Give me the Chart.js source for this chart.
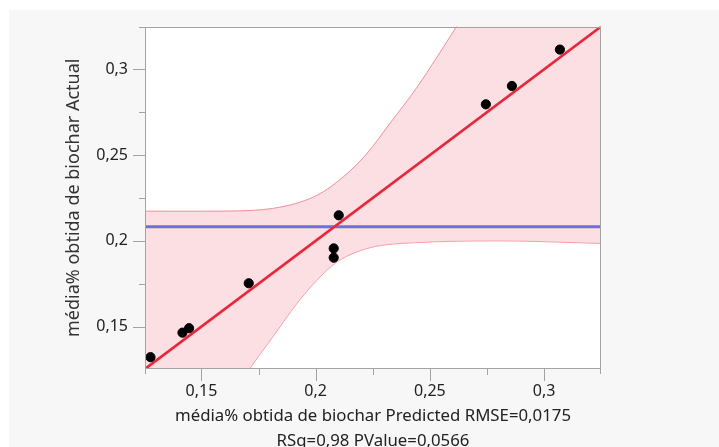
<!DOCTYPE html>
<html>
<head>
<meta charset="utf-8">
<script src="https://cdn.jsdelivr.net/npm/chart.js@4.4.9/dist/chart.umd.min.js"></script>
<style>
  html, body { margin: 0; padding: 0; background: #fff; overflow: hidden; }
  .panel { position: absolute; left: 9px; top: 10px; right: 0; bottom: 0; background: #f7f7f7; }
  .wrap { position: absolute; left: 0; top: 0; width: 719px; height: 460px; }
</style>
</head>
<body>
<div class="panel"></div>
<div class="wrap"><canvas id="chart"></canvas></div>
<script>
// observed points
const predicted = [0.1277, 0.1417, 0.1446, 0.1707, 0.2079, 0.2079, 0.2101, 0.2745, 0.2859, 0.3069];
const actual = [0.1322, 0.1465, 0.1491, 0.1753, 0.1956, 0.1902, 0.2149, 0.2796, 0.2903, 0.3115];

// axis range (same on both axes)
const axisMin = 0.1253;
const axisMax = 0.3249;

// fit line (actual = predicted) and mean of actual
const fitX = [0.1253, 0.3249];
const fitY = [0.1253, 0.3249];
const meanX = [0.1253, 0.3249];
const meanY = [0.2082, 0.2082];

// confidence curves
const upperX = [0.1253, 0.1494, 0.1669, 0.1857, 0.2006, 0.2120, 0.2225, 0.2325, 0.2444, 0.2531, 0.2619, 0.2750, 0.3249];
const upperY = [0.2173, 0.2173, 0.2175, 0.2200, 0.2266, 0.2372, 0.2510, 0.2685, 0.2896, 0.3071, 0.3255, 0.3530, 0.4500];
const lowerX = [0.1253, 0.1638, 0.1713, 0.1813, 0.1918, 0.2006, 0.2093, 0.2181, 0.2268, 0.2413, 0.2807, 0.3249];
const lowerY = [0.0000, 0.1100, 0.1257, 0.1441, 0.1635, 0.1771, 0.1877, 0.1936, 0.1969, 0.1988, 0.2000, 0.1985];

const xTitle = ["média% obtida de biochar Predicted RMSE=0,0175", "RSq=0,98 PValue=0,0566"];
const yTitle = "média% obtida de biochar Actual";

const zip = (xs, ys) => xs.map((x, i) => ({ x, y: ys[i] }));

const fmt = (v) => {
  const k = v / 0.05;
  if (Math.abs(k - Math.round(k)) > 1e-6) return "";
  return String(+v.toFixed(3)).replace(".", ",");
};

const axisGray = "#a3a3a3";
const textColor = "#222";
const fontFamily = "'Noto Sans', 'Open Sans', sans-serif";

// white plot area, frame and tick marks
const framePlugin = {
  id: "frame",
  beforeDraw(chart) {
    const { ctx, chartArea: a } = chart;
    ctx.save();
    ctx.fillStyle = "#fff";
    ctx.fillRect(a.left, a.top, a.right - a.left, a.bottom - a.top);
    ctx.restore();
  },
  afterDatasetsDraw(chart) {
    const { ctx, chartArea: a, scales } = chart;
    ctx.save();
    ctx.strokeStyle = axisGray;
    ctx.lineWidth = 1;
    ctx.strokeRect(Math.round(a.left) + 0.5, Math.round(a.top) + 0.5,
      Math.round(a.right - a.left) - 1, Math.round(a.bottom - a.top) - 1);
    ctx.beginPath();
    scales.y.ticks.forEach((t) => {
      const y = Math.round(scales.y.getPixelForValue(t.value)) + 0.5;
      const len = t.label ? 12 : 6;
      ctx.moveTo(a.left - len, y);
      ctx.lineTo(a.left, y);
    });
    scales.x.ticks.forEach((t) => {
      const x = Math.round(scales.x.getPixelForValue(t.value)) + 0.5;
      const len = t.label ? 12 : 6;
      ctx.moveTo(x, a.bottom);
      ctx.lineTo(x, a.bottom + len);
    });
    // end ticks
    ctx.moveTo(a.left - 6, Math.round(a.top) + 0.5);
    ctx.lineTo(a.left, Math.round(a.top) + 0.5);
    ctx.moveTo(Math.round(a.left) + 0.5, a.bottom);
    ctx.lineTo(Math.round(a.left) + 0.5, a.bottom + 5);
    ctx.moveTo(Math.round(a.right) - 0.5, a.bottom);
    ctx.lineTo(Math.round(a.right) - 0.5, a.bottom + 5);
    ctx.stroke();
    ctx.restore();
  },
};

new Chart(document.getElementById("chart").getContext("2d"), {
  type: "scatter",
  data: {
    datasets: [
      {
        data: zip(predicted, actual),
        backgroundColor: "#000",
        borderColor: "#000",
        pointRadius: 4.6,
        pointHoverRadius: 4.6,
      },
      {
        type: "line",
        data: zip(fitX, fitY),
        borderColor: "#e8273b",
        borderWidth: 2.6,
        pointRadius: 0,
        fill: false,
        clip: 0,
      },
      {
        type: "line",
        data: zip(meanX, meanY),
        borderColor: "#6f6fdc",
        borderWidth: 3,
        pointRadius: 0,
        fill: false,
        clip: 0,
      },
      {
        type: "line",
        data: zip(upperX, upperY),
        borderColor: "rgba(240, 110, 125, 0.75)",
        borderWidth: 1,
        backgroundColor: "rgba(250, 196, 204, 0.55)",
        pointRadius: 0,
        cubicInterpolationMode: "monotone",
        fill: "+1",
        clip: 0,
      },
      {
        type: "line",
        data: zip(lowerX, lowerY),
        borderColor: "rgba(240, 110, 125, 0.75)",
        borderWidth: 1,
        pointRadius: 0,
        cubicInterpolationMode: "monotone",
        fill: false,
        clip: 0,
      },
    ],
  },
  options: {
    responsive: true,
    maintainAspectRatio: false,
    animation: false,
    events: [],
    layout: { padding: { left: 0, top: 26, right: 118, bottom: 0 } },
    plugins: {
      legend: { display: false },
      tooltip: { enabled: false },
    },
    scales: {
      x: {
        type: "linear",
        min: axisMin,
        max: axisMax,
        grid: { display: false, drawTicks: false },
        border: { display: false },
        ticks: {
          stepSize: 0.025,
          includeBounds: false,
          autoSkip: false,
          maxRotation: 0,
          padding: 13,
          color: textColor,
          font: { family: fontFamily, size: 16 },
          callback: (v) => fmt(v),
        },
        title: {
          display: true,
          text: xTitle,
          color: textColor,
          font: { family: fontFamily, size: 16.8, lineHeight: "25px" },
          padding: { top: 0, bottom: 6.5 },
        },
        afterFit: (scale) => { scale.height = 91; },
      },
      y: {
        type: "linear",
        min: axisMin,
        max: axisMax,
        grid: { display: false, drawTicks: false },
        border: { display: false },
        ticks: {
          stepSize: 0.025,
          includeBounds: false,
          autoSkip: false,
          padding: 17,
          color: textColor,
          font: { family: fontFamily, size: 16 },
          callback: (v) => fmt(v),
        },
        title: {
          display: true,
          text: yTitle,
          color: "#333",
          font: { family: fontFamily, size: 18, lineHeight: 1.2 },
          padding: { top: 63, bottom: 0 },
        },
        afterFit: (scale) => { scale.width = 145; },
      },
    },
  },
  plugins: [framePlugin],
});
</script>
</body>
</html>
